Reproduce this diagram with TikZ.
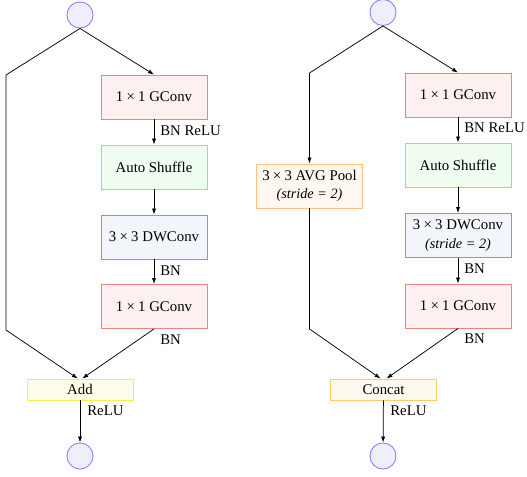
\documentclass[tikz,border=0pt]{standalone}
\usepackage{fontspec}
\setmainfont{Liberation Serif}
\usetikzlibrary{arrows.meta}
\definecolor{redB}{HTML}{F58080}\definecolor{redF}{HTML}{FDF0F0}
\definecolor{grnB}{HTML}{80F080}\definecolor{grnF}{HTML}{F1FCF1}
\definecolor{bluB}{HTML}{809CC4}\definecolor{bluF}{HTML}{F2F5F9}
\definecolor{orgB}{HTML}{FFC080}\definecolor{orgF}{HTML}{FFF8F0}
\definecolor{yelB}{HTML}{FFEE44}\definecolor{yelF}{HTML}{FFFDEA}
\definecolor{cctB}{HTML}{FFCC60}\definecolor{cctF}{HTML}{FFFAF0}
\definecolor{cirB}{HTML}{7F7FFF}\definecolor{cirF}{HTML}{EFEFFC}
\newcommand{\kx}[2]{#1\hspace{0.22em}×\hspace{0.22em}#2}
\newcommand{\stridetxt}{{\fontsize{9.6}{11}\selectfont\itshape(stride = 2)}}
\begin{document}
\begin{tikzpicture}[x=0.675pt,y=-0.675pt,
  box/.style={draw,line width=0.6pt,minimum width=71.6pt,minimum height=29.7pt,
    inner sep=1pt,align=center,font=\normalsize},
  gconv/.style={box,draw=redB,fill=redF},
  shuf/.style={box,draw=grnB,fill=grnF},
  dw/.style={box,draw=bluB,fill=bluF},
  pool/.style={box,draw=orgB,fill=orgF},
  mergebox/.style={box,minimum height=14.2pt},
  addbox/.style={mergebox,draw=yelB,fill=yelF},
  catbox/.style={mergebox,draw=cctB,fill=cctF},
  port/.style={circle,draw=cirB,fill=cirF,line width=0.6pt,minimum size=17.6pt,inner sep=0pt},
  arr/.style={-{Latex[length=4pt,width=2.8pt]},line width=0.5pt},
  ln/.style={line width=0.5pt},
  lab/.style={anchor=west,inner sep=0pt,font=\normalsize}]
\useasboundingbox (0,0) rectangle (527,477);

% ---- basic unit (stride 1) ----
\node[port] (ain) at (80,15) {};
\node[gconv] (a1) at (154,97) {\kx11 GConv};
\node[shuf] (a2) at (154,167) {Auto Shuffle};
\node[dw] (a3) at (154,237) {\kx33 DWConv};
\node[gconv] (a4) at (154,306.5) {\kx11 GConv};
\node[addbox] (add) at (80,389.5) {Add};
\node[port] (aout) at (80,456) {};
\coordinate (aL1) at (6,75);
\coordinate (aL2) at (6,330);

\draw[arr] (ain.south) -- (a1.north);
\draw[ln] (ain.south) -- (aL1) -- (aL2);
\draw[arr] (aL2) -- ([xshift=-1.5]add.north);
\draw[arr] (a1) -- (a2);
\draw[arr] (a2) -- (a3);
\draw[arr] (a3) -- (a4);
\draw[arr] (a4.south) -- ([xshift=1.5]add.north);
\draw[arr] (add) -- (aout);
\node[lab] at (160,131) {BN ReLU};
\node[lab] at (160,271) {BN};
\node[lab] at (160,340) {BN};
\node[lab] at (87,411) {ReLU};

% ---- down-sampling unit (stride 2) ----
\node[port] (bin) at (383,12.5) {};
\node[gconv] (b1) at (458,95) {\kx11 GConv};
\node[shuf] (b2) at (458,165) {Auto Shuffle};
\node[dw] (b3) at (458,235.5) {\kx33 DWConv\\[0.5pt]\stridetxt};
\node[gconv] (b4) at (458,306) {\kx11 GConv};
\node[pool] (bp) at (309.5,186) {\kx33 AVG Pool\\[0.5pt]\stridetxt};
\node[catbox] (cat) at (383.5,389.5) {Concat};
\node[port] (bout) at (383,456) {};
\coordinate (bL1) at (309.5,73);
\coordinate (bL2) at (309.5,329);

\draw[arr] (bin.south) -- (b1.north);
\draw[ln] (bin.south) -- (bL1);
\draw[arr] (bL1) -- (bp.north);
\draw[ln] (bp.south) -- (bL2);
\draw[arr] (bL2) -- ([xshift=-2]cat.north);
\draw[arr] (b1) -- (b2);
\draw[arr] (b2) -- (b3);
\draw[arr] (b3) -- (b4);
\draw[arr] (b4.south) -- ([xshift=2]cat.north);
\draw[arr] (cat) -- (bout);
\node[lab] at (464,128) {BN ReLU};
\node[lab] at (464,268.5) {BN};
\node[lab] at (464,339) {BN};
\node[lab] at (390,411) {ReLU};
\end{tikzpicture}
\end{document}
